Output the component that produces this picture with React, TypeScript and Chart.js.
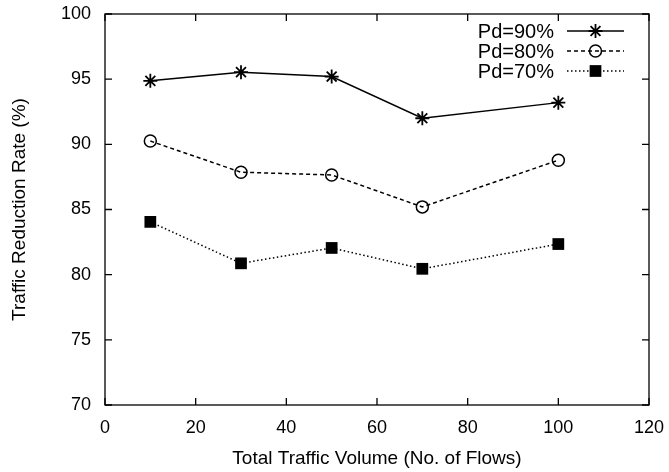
import React, { useEffect, useRef } from "react";
import { Chart, registerables } from "chart.js";
import { drawPoint } from "chart.js/helpers";

Chart.register(...registerables);

const xValues = [10, 30, 50, 70, 100];
const pd90 = [94.87, 95.54, 95.2, 92.0, 93.2];
const pd80 = [90.25, 87.86, 87.65, 85.2, 88.78];
const pd70 = [84.05, 80.87, 82.05, 80.45, 82.35];
const seriesLabels = ["Pd=90%", "Pd=80%", "Pd=70%"];
const xTicks = [0, 20, 40, 60, 80, 100, 120];
const yTicks = [70, 75, 80, 85, 90, 95, 100];

const FONT = "'Liberation Sans', Arial, Helvetica, sans-serif";

const framePlugin = {
  id: "frameTicks",
  afterDraw(chart: any) {
    const ctx = chart.ctx;
    const { left, right, top, bottom } = chart.chartArea;
    const xs = chart.scales.x;
    const ys = chart.scales.y;
    const tl = 7;
    ctx.save();
    ctx.strokeStyle = "#000";
    ctx.lineWidth = 1.3;
    ctx.setLineDash([]);
    ctx.strokeRect(left, top, right - left, bottom - top);
    ctx.beginPath();
    for (const v of xTicks) {
      const px = xs.getPixelForValue(v);
      ctx.moveTo(px, bottom);
      ctx.lineTo(px, bottom - tl);
      ctx.moveTo(px, top);
      ctx.lineTo(px, top + tl);
    }
    for (const v of yTicks) {
      const py = ys.getPixelForValue(v);
      ctx.moveTo(left, py);
      ctx.lineTo(left + tl, py);
      ctx.moveTo(right, py);
      ctx.lineTo(right - tl, py);
    }
    ctx.stroke();

    // legend (inside, top-right; text left of sample)
    const textRight = 554;
    const lineL = 567;
    const lineR = 624;
    const rowY = [31, 51, 71];
    ctx.font = `20px ${FONT}`;
    ctx.textAlign = "right";
    ctx.textBaseline = "middle";
    ctx.fillStyle = "#000";
    chart.data.datasets.forEach((ds: any, i: number) => {
      const y = rowY[i];
      ctx.fillStyle = "#000";
      ctx.fillText(ds.label, textRight, y + 1);
      ctx.save();
      ctx.lineWidth = ds.borderWidth;
      ctx.strokeStyle = ds.borderColor;
      ctx.setLineDash(ds.borderDash || []);
      ctx.beginPath();
      ctx.moveTo(lineL, y);
      ctx.lineTo(lineR, y);
      ctx.stroke();
      ctx.setLineDash([]);
      ctx.fillStyle = ds.pointBackgroundColor;
      ctx.strokeStyle = ds.pointBorderColor;
      ctx.lineWidth = ds.pointBorderWidth;
      drawPoint(
        ctx,
        { pointStyle: ds.pointStyle, rotation: 0, radius: ds.pointRadius, borderWidth: ds.pointBorderWidth },
        (lineL + lineR) / 2,
        y
      );
      ctx.restore();
    });
    ctx.restore();
  },
};

export default function App() {
  const ref = useRef<HTMLCanvasElement>(null);
  useEffect(() => {
    document.body.style.margin = "0";
    const mk = (vals: number[]) => xValues.map((x, i) => ({ x, y: vals[i] }));
    const chart = new Chart(ref.current!, {
      type: "line",
      data: {
        datasets: [
          {
            label: seriesLabels[0],
            data: mk(pd90),
            borderColor: "#000",
            borderWidth: 1.5,
            borderDash: [],
            pointStyle: "star",
            pointRadius: 7,
            pointBorderWidth: 1.8,
            pointBorderColor: "#000",
            pointBackgroundColor: "#000",
            pointHoverRadius: 7,
          },
          {
            label: seriesLabels[1],
            data: mk(pd80),
            borderColor: "#000",
            borderWidth: 1.5,
            borderDash: [4, 3],
            pointStyle: "circle",
            pointRadius: 6,
            pointBorderWidth: 1.5,
            pointBorderColor: "#000",
            pointBackgroundColor: "rgba(0,0,0,0)",
            pointHoverRadius: 6,
          },
          {
            label: seriesLabels[2],
            data: mk(pd70),
            borderColor: "#000",
            borderWidth: 1.5,
            borderDash: [1.5, 2.5],
            pointStyle: "rect",
            pointRadius: 8.3,
            pointBorderWidth: 0,
            pointBorderColor: "#000",
            pointBackgroundColor: "#000",
            pointHoverRadius: 8.3,
          },
        ] as any,
      },
      options: {
        animation: false,
        responsive: false,
        maintainAspectRatio: false,
        layout: { padding: { left: 0, top: 14, right: 20, bottom: 0 } },
        plugins: { legend: { display: false }, tooltip: { enabled: false } },
        scales: {
          x: {
            type: "linear",
            min: 0,
            max: 120,
            afterFit: (s: any) => {
              s.height = 67;
              s.paddingLeft = 0;
              s.paddingRight = 0;
            },
            afterBuildTicks: (s: any) => {
              s.ticks = xTicks.map((v) => ({ value: v }));
            },
            grid: { display: false, drawTicks: false },
            border: { display: false },
            ticks: { color: "#000", font: { family: FONT, size: 18 }, padding: 12, maxRotation: 0 },
            title: {
              display: true,
              text: "Total Traffic Volume (No. of Flows)",
              color: "#000",
              font: { family: FONT, size: 19 },
              padding: { top: 0, bottom: 2 },
            },
          },
          y: {
            type: "linear",
            min: 70,
            max: 100,
            afterFit: (s: any) => {
              s.width = 105;
              s.paddingTop = 0;
              s.paddingBottom = 0;
            },
            afterBuildTicks: (s: any) => {
              s.ticks = yTicks.map((v) => ({ value: v }));
            },
            grid: { display: false, drawTicks: false },
            border: { display: false },
            ticks: { color: "#000", font: { family: FONT, size: 18 }, padding: 14 },
            title: {
              display: true,
              text: "Traffic Reduction Rate (%)",
              color: "#000",
              font: { family: FONT, size: 19 },
              padding: { top: 8, bottom: 0 },
            },
          },
        },
      },
      plugins: [framePlugin],
    });
    return () => chart.destroy();
  }, []);
  return (
    <div style={{ width: 669, height: 472, background: "#fff" }}>
      <canvas ref={ref} width={669} height={472} style={{ display: "block" }} />
    </div>
  );
}
